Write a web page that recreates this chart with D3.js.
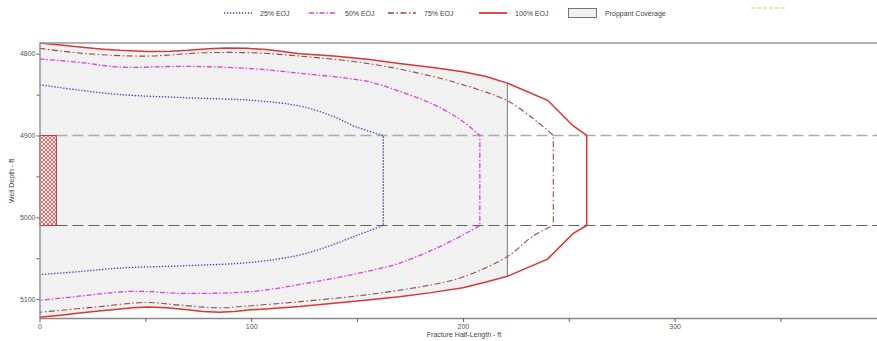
<!DOCTYPE html>
<html>
<head>
<meta charset="utf-8">
<script src="https://cdn.jsdelivr.net/npm/d3@7"></script>
<style>
  body { margin: 0; background: #fff; }
  svg { display: block; font-family: Arial, "Liberation Sans", sans-serif; }
</style>
</head>
<body>
<svg id="chart" width="877" height="341"></svg>
<script>
// Axis ticks
const xTicks = [0, 100, 200, 300];
const xMinorTicks = [50, 150, 250, 350];
const yTicks = [4800, 4900, 5000, 5100];
const yMinorTicks = [4850, 4950, 5050];

// Perforated interval (well depth, ft) and its drawn width (ft)
const perfTop = 4900;
const perfBottom = 5010;
const perfLength = 8;

// Propped length (ft)
const proppantLength = 221;

// Fracture outlines at end of job: [half-length ft, depth ft]
const eoj25Upper = [[0,4838],[20,4845],[38,4850],[70,4854],[100,4857],[123,4864],[138,4876],[150,4890],[162.4,4900]];
const eoj25Lower = [[162.4,5010],[150,5022],[138,5034],[123,5046],[100,5055],[70,5059],[38,5062],[20,5066],[0,5070]];

const eoj50Upper = [[0,4806.5],[20,4811],[38,4816.5],[70,4815.5],[101,4818.5],[123,4824],[155,4834],[170,4846],[186,4862],[199,4881],[208,4900]];
const eoj50Lower = [[208,5010],[199,5023],[186,5039.5],[170,5056],[155,5066],[123,5082],[101,5090.5],[70,5093],[43,5090.5],[20,5096],[0,5101.5]];

const eoj75Upper = [[0,4793.5],[22,4800],[50.6,4803],[77,4799],[101,4799],[123,4803],[155,4812],[186,4828],[208,4844.5],[221,4857.5],[233,4879],[239.6,4893],[242.7,4900]];
const eoj75Lower = [[242.7,5010],[233,5023],[221,5048],[200,5073],[186,5082],[155,5094.5],[123,5103],[100,5108],[85,5110.5],[65,5107],[50.6,5104],[25,5110],[0,5116]];

const eoj100Upper = [[0,4787],[10,4789.5],[19,4792],[30,4794.5],[38,4796],[51,4797.5],[62,4797],[70,4796],[80,4794],[88,4793],[98,4793.5],[107,4795],[115,4797.5],[123,4800],[139,4803],[155,4807],[170,4812],[185,4816.5],[200,4822],[211,4828],[221,4836],[240,4857],[252,4888],[258.5,4900]];
const eoj100Lower = [[258.5,5010],[252,5020],[240,5051],[221,5072],[211,5079],[200,5086],[185,5092],[170,5097],[155,5101],[139,5105],[123,5109],[110,5111.5],[100,5113],[92,5115],[85,5116],[77,5115],[70,5113],[60,5110.5],[51,5109.5],[44,5110.5],[38,5112],[28,5114.5],[19,5117],[10,5119.5],[0,5122]];

const seriesNames = ["25% EOJ", "50% EOJ", "75% EOJ", "100% EOJ"];
const proppantName = "Proppant Coverage";

const series = [
  { name: seriesNames[0], upper: eoj25Upper, lower: eoj25Lower, color: "#3b3bb0", width: 1.3, dash: "1.3,1.7", smooth: true },
  { name: seriesNames[1], upper: eoj50Upper, lower: eoj50Lower, color: "#dd3fdd", width: 1.3, dash: "5,2,1.5,2", smooth: true },
  { name: seriesNames[2], upper: eoj75Upper, lower: eoj75Lower, color: "#9a4747", width: 1.1, dash: "6,2.5,1.5,2.5", smooth: true },
  { name: seriesNames[3], upper: eoj100Upper, lower: eoj100Lower, color: "#dc3535", width: 1.5, dash: null, smooth: false }
];

const svg = d3.select("#chart");

const x = d3.scaleLinear().domain([0, 400]).range([39.5, 886.3]);
const y = d3.scaleLinear().domain([4787, 5123]).range([43, 318]);

const defs = svg.append("defs");
defs.append("clipPath").attr("id", "plotClip")
  .append("rect").attr("x", 39.5).attr("y", 42).attr("width", 877 - 39.5).attr("height", 318 - 42);

const hatch = defs.append("pattern").attr("id", "hatch")
  .attr("patternUnits", "userSpaceOnUse").attr("width", 4).attr("height", 4);
hatch.append("rect").attr("width", 4).attr("height", 4).attr("fill", "#fbeaea");
hatch.append("path").attr("d", "M0,0 L4,4 M4,0 L0,4 M-1,3 L1,5 M3,-1 L5,1 M-1,1 L1,-1 M3,5 L5,3")
  .attr("stroke", "#c83a3a").attr("stroke-width", 0.7);

// Interpolated depth on an outline at a given half-length
function depthAt(pts, xv) {
  for (let i = 0; i < pts.length - 1; i++) {
    const [x0, y0] = pts[i], [x1, y1] = pts[i + 1];
    if ((xv - x0) * (xv - x1) <= 0 && x0 !== x1) {
      return y0 + (y1 - y0) * (xv - x0) / (x1 - x0);
    }
  }
  return pts[pts.length - 1][1];
}

const straight = d3.line().x(d => x(d[0])).y(d => y(d[1]));
const smooth = d3.line().x(d => x(d[0])).y(d => y(d[1])).curve(d3.curveCatmullRom.alpha(0.5));

// Upper and lower edges joined by a straight vertical tip
function outlinePath(upper, lower, isSmooth) {
  const gen = isSmooth ? smooth : straight;
  return gen(upper) + gen(lower).replace(/^M/, "L");
}

const plot = svg.append("g").attr("clip-path", "url(#plotClip)");

// Proppant coverage: the 100% outline clipped at the propped length
const propUpper = eoj100Upper.filter(d => d[0] < proppantLength)
  .concat([[proppantLength, depthAt(eoj100Upper, proppantLength)]]);
const propLower = [[proppantLength, depthAt(eoj100Lower, proppantLength)]]
  .concat(eoj100Lower.filter(d => d[0] < proppantLength));
plot.append("path")
  .attr("d", outlinePath(propUpper, propLower, false) + "Z")
  .attr("fill", "#f1f1f1").attr("stroke", "none");
plot.append("line")
  .attr("x1", x(proppantLength)).attr("x2", x(proppantLength))
  .attr("y1", y(propUpper[propUpper.length - 1][1])).attr("y2", y(propLower[0][1]))
  .attr("stroke", "#777").attr("stroke-width", 1);

// Perforation depth markers
plot.append("line")
  .attr("x1", x(perfLength)).attr("x2", 877)
  .attr("y1", y(perfTop)).attr("y2", y(perfTop))
  .attr("stroke", "#aaaaaa").attr("stroke-width", 1.4).attr("stroke-dasharray", "11,5");
plot.append("line")
  .attr("x1", x(perfLength)).attr("x2", 877)
  .attr("y1", y(perfBottom)).attr("y2", y(perfBottom))
  .attr("stroke", "#606060").attr("stroke-width", 1).attr("stroke-dasharray", "11,5");

// Fracture outlines
series.forEach(s => {
  plot.append("path")
    .attr("d", outlinePath(s.upper, s.lower, s.smooth))
    .attr("fill", "none")
    .attr("stroke", s.color)
    .attr("stroke-width", s.width)
    .attr("stroke-dasharray", s.dash);
});

// Perforated interval
plot.append("rect")
  .attr("x", x(0)).attr("y", y(perfTop))
  .attr("width", x(perfLength) - x(0)).attr("height", y(perfBottom) - y(perfTop))
  .attr("fill", "url(#hatch)").attr("stroke", "#c83a3a").attr("stroke-width", 1);

// Frame top
svg.append("line").attr("x1", 39.5).attr("x2", 877).attr("y1", 43).attr("y2", 43)
  .attr("stroke", "#999").attr("stroke-width", 1.5);

// Axes
const xAxis = svg.append("g").attr("transform", "translate(0,318)")
  .call(d3.axisBottom(x).tickValues(xTicks.concat(xMinorTicks))
    .tickFormat(d => xTicks.includes(d) ? d : "").tickSize(4).tickSizeOuter(0));
const yAxis = svg.append("g").attr("transform", "translate(39.5,0)")
  .call(d3.axisLeft(y).tickValues(yTicks.concat(yMinorTicks))
    .tickFormat(d => yTicks.includes(d) ? d : "").tickSize(3).tickSizeOuter(0));
[xAxis, yAxis].forEach(a => {
  a.select(".domain").attr("stroke", "#888").attr("stroke-width", 1.3);
  a.selectAll(".tick line").attr("stroke", "#666");
  a.selectAll(".tick text").attr("fill", "#555").attr("font-size", 7);
});
xAxis.selectAll(".tick text").attr("dy", "0.9em").attr("y", 5);
yAxis.selectAll(".tick text").attr("x", -4);

svg.append("text").attr("x", 464).attr("y", 337).attr("text-anchor", "middle")
  .attr("font-size", 7).attr("fill", "#444").text("Fracture Half-Length - ft");
svg.append("text").attr("transform", "translate(14,181) rotate(-90)").attr("text-anchor", "middle")
  .attr("font-size", 7).attr("fill", "#444").text("Well Depth - ft");

// Legend
const legendX = [224, 309, 388, 479];
const legend = svg.append("g");
series.forEach((s, i) => {
  legend.append("line").attr("x1", legendX[i]).attr("x2", legendX[i] + 28)
    .attr("y1", 13).attr("y2", 13)
    .attr("stroke", s.color).attr("stroke-width", s.width + 0.3).attr("stroke-dasharray", s.dash);
  legend.append("text").attr("x", legendX[i] + 36).attr("y", 15.5)
    .attr("font-size", 7).attr("fill", "#444").text(s.name);
});
legend.append("rect").attr("x", 568.5).attr("y", 8.5).attr("width", 28).attr("height", 9)
  .attr("fill", "#f1f1f1").attr("stroke", "#555").attr("stroke-width", 0.8);
legend.append("text").attr("x", 605).attr("y", 15.5)
  .attr("font-size", 7).attr("fill", "#444").text(proppantName);

// Faint marker at top right
svg.append("line").attr("x1", 751).attr("x2", 787).attr("y1", 8).attr("y2", 8)
  .attr("stroke", "#cfe8a8").attr("stroke-width", 1.5).attr("stroke-dasharray", "4,2");
</script>
</body>
</html>
